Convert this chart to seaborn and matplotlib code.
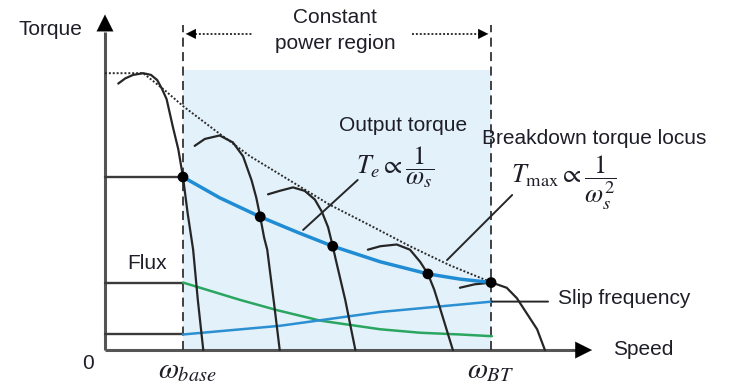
import matplotlib
matplotlib.use("Agg")
import matplotlib.pyplot as plt
import seaborn as sns

# Speed in units of base speed, torque in units of rated torque
base_speed = 1.0
breakdown_speed = 4.95

# Torque-speed curves of the motor at increasing stator frequency
curve1_speed = [0.17, 0.26, 0.36, 0.49, 0.59, 0.67, 0.73, 0.79, 0.87, 0.94, 1.00, 1.06, 1.13, 1.19, 1.26]
curve1_torque = [1.54, 1.57, 1.59, 1.60, 1.59, 1.56, 1.51, 1.45, 1.29, 1.16, 1.00, 0.79, 0.58, 0.29, 0.0]
curve2_speed = [1.15, 1.28, 1.47, 1.64, 1.77, 1.88, 1.94, 1.99, 2.04, 2.08, 2.17, 2.24]
curve2_torque = [1.18, 1.22, 1.24, 1.20, 1.12, 0.98, 0.88, 0.77, 0.65, 0.58, 0.26, 0.0]
curve3_speed = [2.09, 2.24, 2.41, 2.56, 2.69, 2.78, 2.86, 2.92, 2.96, 3.08, 3.21]
curve3_torque = [0.90, 0.92, 0.94, 0.92, 0.87, 0.80, 0.71, 0.60, 0.52, 0.29, 0.0]
curve4_speed = [3.37, 3.53, 3.74, 3.91, 4.04, 4.14, 4.22, 4.29, 4.46]
curve4_torque = [0.58, 0.60, 0.61, 0.58, 0.51, 0.44, 0.35, 0.25, 0.0]
curve5_speed = [4.55, 4.74, 4.96, 5.15, 5.28, 5.41, 5.54, 5.64]
curve5_torque = [0.36, 0.38, 0.39, 0.36, 0.30, 0.21, 0.12, 0.0]

# Output torque (Te ~ 1/ws) and operating points
output_speed = [1.00, 1.47, 1.99, 2.47, 2.92, 3.53, 4.14, 4.55, 4.96]
output_torque = [1.00, 0.88, 0.77, 0.68, 0.60, 0.51, 0.44, 0.41, 0.39]
point_speed = [1.00, 1.99, 2.92, 4.14, 4.95]
point_torque = [1.00, 0.77, 0.60, 0.44, 0.39]

# Breakdown torque locus (Tmax ~ 1/ws^2)
locus_speed = [0.0, 0.49, 0.77, 1.00, 1.41, 1.86, 2.37, 2.88, 3.40, 3.91, 4.42, 4.96]
locus_torque = [1.60, 1.60, 1.50, 1.41, 1.27, 1.12, 0.98, 0.84, 0.72, 0.60, 0.49, 0.39]

# Flux and slip frequency
flux_speed = [1.00, 1.22, 1.73, 2.21, 2.76, 3.53, 4.04, 4.55, 4.96]
flux_level = [0.39, 0.36, 0.29, 0.23, 0.17, 0.12, 0.10, 0.09, 0.08]
slip_speed = [1.00, 2.24, 3.53, 4.96]
slip_level = [0.09, 0.14, 0.22, 0.28]

sns.set_theme(style="white")
plt.rcParams["font.family"] = ["Liberation Sans", "DejaVu Sans"]
plt.rcParams["mathtext.fontset"] = "stix"

TXT = "#1e1e28"
CURVE = "#262626"
AXIS = "#555555"

fig = plt.figure(figsize=(7.29, 3.85), dpi=100)
ax = fig.add_axes([0, 0, 1, 1])
ax.set_xlim(-1.346, 8.0)
ax.set_ylim(-0.202, 2.023)
ax.axis("off")

# constant power region shading
region_top = 1.62
ax.fill_between([base_speed, breakdown_speed], 0, region_top, color="#e3f1fa", lw=0, zorder=0)

# axes with arrow heads
ax.plot([0, 0], [0, 1.84], color=AXIS, lw=2.2, solid_capstyle="butt", zorder=2)
ax.plot([0, 6.1], [0, 0], color=AXIS, lw=2.2, solid_capstyle="butt", zorder=2)
ax.annotate("", xy=(0, 1.955), xytext=(0, 1.78),
            arrowprops=dict(arrowstyle="-|>", color="black", lw=0.1, mutation_scale=30))
ax.annotate("", xy=(6.28, 0), xytext=(5.95, 0),
            arrowprops=dict(arrowstyle="-|>", color="black", lw=0.1, mutation_scale=30))

# boundary lines of the region
for sp in (base_speed, breakdown_speed):
    ax.plot([sp, sp], [0, 1.88], color="#333333", lw=1.3, ls=(0, (5, 3)), zorder=3)

# region arrow
arrow_y = 1.827
ax.plot([base_speed + 0.15, 1.88], [arrow_y, arrow_y], color="#333333", lw=1.4, ls=(0, (1, 1)))
ax.plot([3.94, breakdown_speed - 0.15], [arrow_y, arrow_y], color="#333333", lw=1.4, ls=(0, (1, 1)))
ax.annotate("", xy=(base_speed, arrow_y), xytext=(base_speed + 0.2, arrow_y),
            arrowprops=dict(arrowstyle="-|>", color="black", lw=0.1, mutation_scale=18))
ax.annotate("", xy=(breakdown_speed, arrow_y), xytext=(breakdown_speed - 0.2, arrow_y),
            arrowprops=dict(arrowstyle="-|>", color="black", lw=0.1, mutation_scale=18))

# constant-torque region levels
for lvl in (output_torque[0], flux_level[0], slip_level[0]):
    ax.plot([0, base_speed], [lvl, lvl], color="#3a3a3a", lw=1.7, zorder=2)

# flux and slip frequency
sns.lineplot(x=flux_speed, y=flux_level, ax=ax, color="#2aa660", lw=1.8, estimator=None, sort=False, zorder=3)
sns.lineplot(x=slip_speed, y=slip_level, ax=ax, color="#2b8fd2", lw=1.8, estimator=None, sort=False, zorder=3)

# breakdown torque locus
sns.lineplot(x=locus_speed, y=locus_torque, ax=ax, color="#2a2a2a", lw=1.4,
             ls=(0, (1, 1)), estimator=None, sort=False, zorder=4)

# motor curves
for cs, ct in [(curve1_speed, curve1_torque), (curve2_speed, curve2_torque),
               (curve3_speed, curve3_torque), (curve4_speed, curve4_torque),
               (curve5_speed, curve5_torque)]:
    sns.lineplot(x=cs, y=ct, ax=ax, color=CURVE, lw=1.6, estimator=None, sort=False,
                 solid_joinstyle="round", zorder=5)

# output torque and operating points
sns.lineplot(x=output_speed, y=output_torque, ax=ax, color="#1f8cd3", lw=2.5,
             estimator=None, sort=False, solid_joinstyle="round", zorder=6)
sns.scatterplot(x=point_speed, y=point_torque, ax=ax, color="black", s=60, edgecolor="none", zorder=7)

# leader lines
leader = dict(arrowstyle="-", color=CURVE, lw=1.4, shrinkA=0, shrinkB=0)
ax.annotate("", xy=(2.54, 0.694), xytext=(3.24, 0.983), arrowprops=leader)
ax.annotate("", xy=(4.385, 0.52), xytext=(5.22, 0.896), arrowprops=leader)
ax.annotate("", xy=(slip_speed[-1], slip_level[-1]), xytext=(5.68, slip_level[-1]), arrowprops=leader)

# labels
fs = 15
ax.text(-0.705, 1.85, "Torque", fontsize=fs, color=TXT, ha="center", va="center")
ax.text(-0.218, -0.075, "0", fontsize=fs, color=TXT, ha="center", va="center")
ax.text(2.95, 1.92, "Constant", fontsize=fs, color=TXT, ha="center", va="center")
ax.text(2.95, 1.77, "power region", fontsize=fs, color=TXT, ha="center", va="center")
ax.text(0.54, 0.503, "Flux", fontsize=fs, color=TXT, ha="center", va="center")
ax.text(3.82, 1.30, "Output torque", fontsize=fs, color=TXT, ha="center", va="center")
ax.text(4.83, 1.225, "Breakdown torque locus", fontsize=fs, color=TXT, ha="left", va="center")
ax.text(5.81, 0.30, "Slip frequency", fontsize=fs, color=TXT, ha="left", va="center")
ax.text(6.51, 0.006, "Speed", fontsize=fs, color=TXT, ha="left", va="center")

ax.text(3.72, 1.06, r"$T_e \propto \dfrac{1}{\omega_s}$", fontsize=19, color=TXT, ha="center", va="center")
ax.text(5.88, 0.97, r"$T_{\max} \propto \dfrac{1}{\omega_s^2}$", fontsize=19, color=TXT, ha="center", va="center")
ax.text(1.06, -0.116, r"$\omega_{base}$", fontsize=21, color=TXT, ha="center", va="center")
ax.text(4.95, -0.116, r"$\omega_{BT}$", fontsize=21, color=TXT, ha="center", va="center")

fig.savefig("out.png", dpi=100)
plt.close(fig)
